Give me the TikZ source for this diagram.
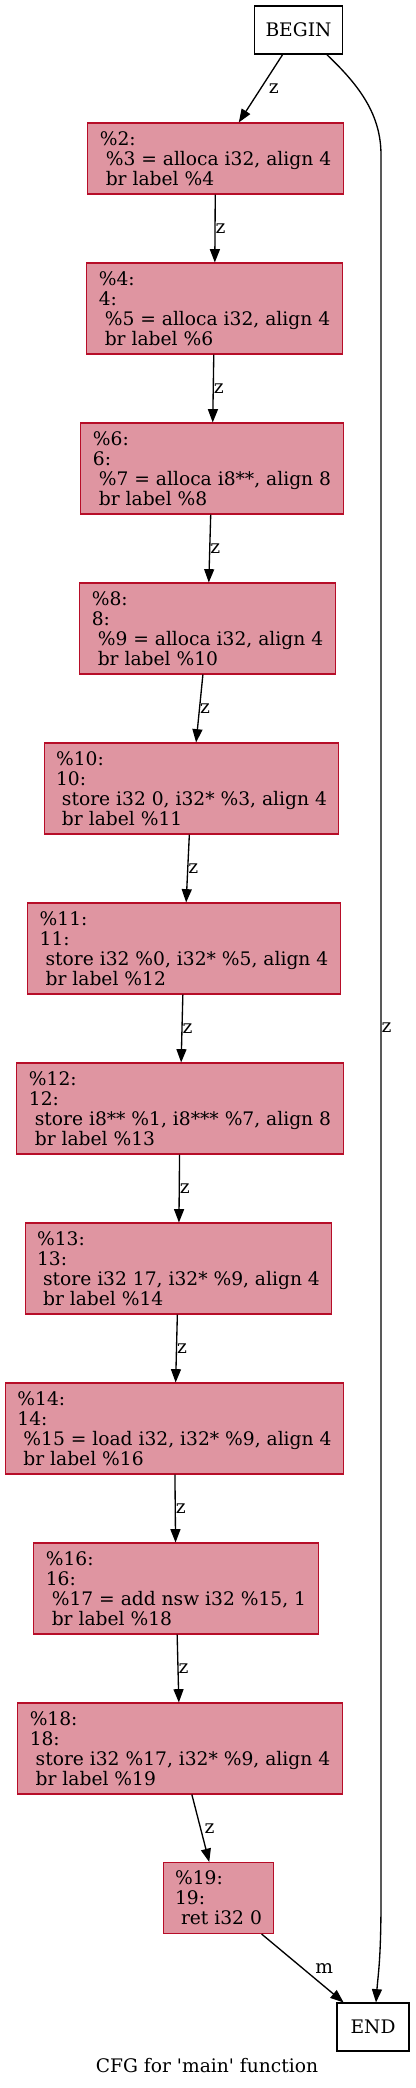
\documentclass[tikz,border=0pt]{standalone}
\usepackage{fontspec}
\setmainfont{DejaVu Serif}
\usetikzlibrary{arrows.meta}
\definecolor{blockfill}{RGB}{223,149,161}
\definecolor{blockline}{RGB}{183,13,40}
\begin{document}
\begin{tikzpicture}[x=0.75pt, y=0.75pt,
        every node/.style={font=\fontsize{14}{15}\selectfont},
        term/.style={draw=black, fill=white, line width=0.8pt, minimum width=54pt, minimum height=36pt, inner xsep=8pt},
        block/.style={draw=blockline, fill=blockfill, line width=0.8pt, align=left, inner xsep=9pt, inner ysep=4pt},
        block3/.style={block, minimum height=53.25pt},
        block4/.style={block, minimum height=68.25pt},
        edge/.style={black, line width=1pt, -{Triangle[length=10pt, width=7.5pt]}},
        lbl/.style={right, inner sep=0pt}]
        \useasboundingbox (0,0) rectangle (415,-2088);
        % blocks
        \node [term] (begin) at (298.5,-30) {BEGIN};
        \node [block3] (b2) at (215.5,-158.5) {\%2:\\\ \%3 = alloca i32, align 4\\\ br label \%4};
        \node [block4] (b4) at (214.5,-308.5) {\%4:\\4:\\\ \%5 = alloca i32, align 4\\\ br label \%6};
        \node [block4] (b6) at (212,-468.5) {\%6:\\6:\\\ \%7 = alloca i8**, align 8\\\ br label \%8};
        \node [block4] (b8) at (207.5,-628.5) {\%8:\\8:\\\ \%9 = alloca i32, align 4\\\ br label \%10};
        \node [block4] (b10) at (191.5,-788.5) {\%10:\\10:\\\ store i32 0, i32* \%3, align 4\\\ br label \%11};
        \node [block4] (b11) at (184,-948.5) {\%11:\\11:\\\ store i32 \%0, i32* \%5, align 4\\\ br label \%12};
        \node [block4] (b12) at (180,-1108.5) {\%12:\\12:\\\ store i8** \%1, i8*** \%7, align 8\\\ br label \%13};
        \node [block4] (b13) at (178.5,-1268.5) {\%13:\\13:\\\ store i32 17, i32* \%9, align 4\\\ br label \%14};
        \node [block4] (b14) at (174.5,-1428.5) {\%14:\\14:\\\ \%15 = load i32, i32* \%9, align 4\\\ br label \%16};
        \node [block4] (b16) at (176,-1588.5) {\%16:\\16:\\\ \%17 = add nsw i32 \%15, 1\\\ br label \%18};
        \node [block4] (b18) at (180,-1748.5) {\%18:\\18:\\\ store i32 \%17, i32* \%9, align 4\\\ br label \%19};
        \node [block3] (b19) at (218.5,-1898) {\%19:\\19:\\\ ret i32 0};
        \node [term] (end) at (373,-2027) {END};
        \node (caption) at (207,-2066) {CFG for \textquotesingle main\textquotesingle\ function};
        % edges
        \draw [edge] (begin) -- node [lbl, xshift=5.6pt] {z} (b2);
        \draw [edge] (b2) -- node [lbl] {z} (b4);
        \draw [edge] (b4) -- node [lbl] {z} (b6);
        \draw [edge] (b6) -- node [lbl] {z} (b8);
        \draw [edge] (b8) -- node [lbl] {z} (b10);
        \draw [edge] (b10) -- node [lbl] {z} (b11);
        \draw [edge] (b11) -- node [lbl] {z} (b12);
        \draw [edge] (b12) -- node [lbl] {z} (b13);
        \draw [edge] (b13) -- node [lbl] {z} (b14);
        \draw [edge] (b14) -- node [lbl] {z} (b16);
        \draw [edge] (b16) -- node [lbl] {z} (b18);
        \draw [edge] (b18) -- node [lbl, xshift=2.5pt] {z} (b19);
        \draw [edge] (b19) -- node [lbl, xshift=9pt] {m} (end);
        % straight from BEGIN to END
        \coordinate (railtop) at (381,-155);
        \coordinate (railbot) at (381,-1900);
        \draw [edge] (begin.-41) .. controls (360,-86) and (381,-115) .. (railtop)
            -- node [lbl, pos=0.5] {z} (railbot)
            .. controls (381,-1960) and (378,-1975) .. ([xshift=2.25pt]end.north);
\end{tikzpicture}
\end{document}
